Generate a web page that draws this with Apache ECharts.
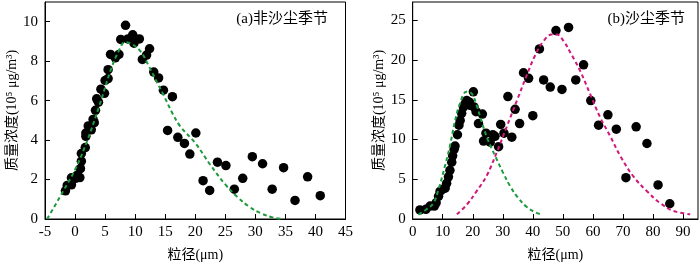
<!DOCTYPE html>
<html>
<head>
<meta charset="utf-8">
<script src="https://cdn.jsdelivr.net/npm/echarts@6/dist/echarts.min.js"></script>
<style>html,body{margin:0;padding:0;background:#fff}#c{width:700px;height:267px}</style>
</head>
<body>
<div id="c"></div>
<script>
// Left panel (a) non-dust season: measured points [size, concentration]
const aPoints = [
  [-1.6,1.43],[-1.3,1.7],[-0.6,1.73],[-0.6,2.09],[0.1,2.06],[0.3,2.2],[0.8,2.1],[0.9,2.55],
  [1.05,2.93],[1.05,3.32],[1.7,3.62],[1.8,4.19],[1.8,4.36],[2.2,4.72],[2.7,4.52],[3.0,5.05],
  [3.2,4.88],[3.4,5.51],[3.6,6.09],[3.9,5.92],[4.3,6.58],[4.9,6.37],[5.0,7.02],[5.5,7.12],
  [5.5,7.57],[5.9,8.34],[6.7,8.17],[7.3,8.34],[7.6,9.1],[8.4,9.82],[8.8,9.13],[9.6,9.34],
  [9.8,8.91],[10.7,9.13],[11.2,8.09],[11.9,8.31],[12.4,8.63],[13.1,7.45],[13.9,7.15],
  [14.7,6.53],[16.2,6.2],[15.4,4.49],[17.1,4.14],[18.2,3.83],[19.1,3.29],[20.1,4.36],
  [21.3,1.94],[22.4,1.45],[23.7,2.88],[25.1,2.71],[26.5,1.51],[27.9,2.06],[29.5,3.16],
  [31.2,2.8],[32.8,1.51],[34.7,2.6],[36.6,0.94],[38.7,2.14],[40.8,1.18]
];
// Left panel fitted curve
const aFit = [
  [-4.65,0],[-3.5,0.6],[-2,1.4],[0,2.5],[2,3.95],[4,5.7],[6,7.6],[7.4,8.6],[8.3,8.96],
  [9.5,8.85],[10.9,8.5],[12.2,7.8],[13.6,6.95],[14.7,6.3],[16.3,5.3],[17.5,4.7],[20,3.85],
  [22.5,2.75],[25,1.75],[27,1.12],[29,0.62],[31,0.28],[33,0.07],[34.4,0]
];
// Right panel (b) dust season: measured points
const bPoints = [
  [2.4,1.14],[4.4,1.22],[5.8,1.63],[7.2,1.63],[7.8,2.04],[8.6,2.85],[9.1,3.47],[10,3.75],
  [10.8,3.87],[11.3,4.49],[11.9,5.3],[12.4,6.12],[13,7.14],[13.3,7.95],[13.8,8.77],[14.1,9.18],
  [14.9,10.6],[15.4,11.8],[15.8,12.4],[16.3,13.3],[16.9,14.1],[17.4,14.5],[18,14.9],[18.9,14.7],
  [19.1,14.3],[20.2,16.0],[20.4,14.1],[21.1,13.5],[21.9,12.0],[23.2,13.2],[23.6,9.8],[24.4,10.8],
  [25.8,9.67],[26.7,10.6],[27.4,10.4],[28.6,9.1],[29.3,11.9],[30.4,10.8],[31.7,15.4],[33,10.3],
  [34.1,13.8],[35.6,12.0],[36.9,18.4],[38.6,17.7],[40,13.0],[42.2,21.4],[43.6,17.5],[45.8,16.6],
  [47.7,23.7],[49.7,16.3],[51.9,24.1],[54.3,17.5],[56.9,19.4],[59.3,14.9],[61.9,11.8],[65,13.1],
  [67.8,11.3],[71,5.2],[74.4,11.6],[78,9.5],[81.7,4.28],[85.6,1.92]
];
// Right panel fitted curves
const bFitFine = [
  [1.9,0.55],[4.5,1.2],[6.9,2.0],[8.5,3.6],[10.7,6.6],[12.4,9.2],[14,12.2],[15.7,14.5],
  [17.9,16.0],[19.6,15.8],[21.3,14.3],[22.9,12.3],[25,10.0],[27.5,7.9],[30,5.9],[32.5,4.1],
  [35,2.7],[38,1.5],[40.5,0.9],[42.5,0.6]
];
const bFitCoarse = [
  [14.7,0.6],[18,1.8],[21.3,3.5],[24.7,5.5],[28,8.4],[31.3,11.6],[34.7,14.9],[38,18.1],
  [40.8,20.6],[43.6,22.4],[46.3,23.2],[48,23.2],[50.2,22.4],[53,20.6],[55.8,18.6],[59.1,15.7],
  [62.4,12.8],[65.8,10.4],[69.1,7.95],[73.6,5.3],[78,3.5],[82.4,2.0],[86.9,1.0],[92.4,0.6]
];
const yName = '质量浓度(10⁵ μg/m³)';
const xName = '粒径(μm)';
const labelA = '(a)非沙尘季节';
const labelB = '(b)沙尘季节';

const FONT = "'Liberation Serif','Noto Sans CJK SC',serif";
const chart = echarts.init(document.getElementById('c'), null, {renderer:'canvas'});
function xAxis(idx, min, max, interval, hideMax) {
  return {
    type:'value', gridIndex:idx, min, max, interval,
    name:xName, nameLocation:'middle', nameGap:29,
    nameTextStyle:{fontFamily:FONT, fontSize:14, color:'#000'},
    axisLine:{show:true, onZero:false, lineStyle:{color:'#000', width:1}},
    axisTick:{show:true, inside:true, length:5, lineStyle:{color:'#000'}},
    axisLabel:{fontFamily:FONT, fontSize:15, color:'#000', margin:6, showMaxLabel:!hideMax},
    splitLine:{show:false}
  };
}
function yAxis(idx, min, max, interval) {
  return {
    type:'value', gridIndex:idx, min, max, interval,
    name:yName, nameLocation:'middle', nameGap:26, nameRotate:90,
    nameTextStyle:{fontFamily:FONT, fontSize:14, color:'#000'},
    axisLine:{show:true, onZero:false, lineStyle:{color:'#000', width:1}},
    axisTick:{show:true, inside:true, length:5, lineStyle:{color:'#000'}},
    axisLabel:{fontFamily:FONT, fontSize:15, color:'#000', margin:7, showMaxLabel:false},
    splitLine:{show:false}
  };
}
const dash = {type:[4,3], width:2};
const dot = {color:'#000', opacity:1};
chart.setOption({
  animation:false,
  backgroundColor:'#fff',
  title:[
    {text:labelA, right:367, top:7, textStyle:{fontFamily:FONT, fontSize:15, fontWeight:'normal', color:'#000'}},
    {text:labelB, right:10, top:7, textStyle:{fontFamily:FONT, fontSize:15, fontWeight:'normal', color:'#000'}}
  ],
  grid:[
    {left:45, right:354.5, top:2, bottom:42, show:true, borderColor:'#000', borderWidth:1, containLabel:false},
    {left:412.7, right:2, top:2, bottom:42, show:true, borderColor:'#000', borderWidth:1, containLabel:false}
  ],
  xAxis:[xAxis(0,-5,45,5,false), xAxis(1,0,95,10,true)],
  yAxis:[yAxis(0,0,11,2), yAxis(1,0,27.3,5)],
  series:[
    {type:'scatter', xAxisIndex:0, yAxisIndex:0, data:aPoints, symbolSize:9.5, itemStyle:dot, z:2},
    {type:'line', xAxisIndex:0, yAxisIndex:0, data:aFit, smooth:0.4, showSymbol:false, lineStyle:Object.assign({color:'#1c9a3c'},dash), z:3},
    {type:'scatter', xAxisIndex:1, yAxisIndex:1, data:bPoints, symbolSize:9.5, itemStyle:dot, z:2},
    {type:'line', xAxisIndex:1, yAxisIndex:1, data:bFitFine, smooth:0.4, showSymbol:false, lineStyle:Object.assign({color:'#1c9a3c'},dash), z:3},
    {type:'line', xAxisIndex:1, yAxisIndex:1, data:bFitCoarse, smooth:0.4, showSymbol:false, lineStyle:Object.assign({color:'#d0187c'},dash), z:3}
  ]
});
</script>
</body>
</html>
